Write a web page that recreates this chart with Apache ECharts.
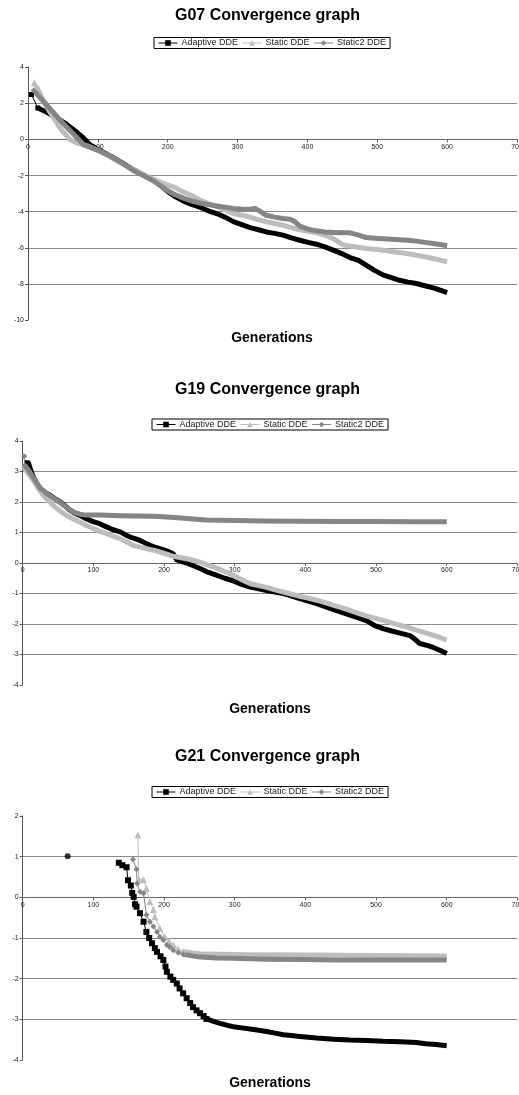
<!DOCTYPE html>
<html>
<head>
<meta charset="utf-8">
<script src="https://cdn.jsdelivr.net/npm/echarts@6/dist/echarts.min.js"></script>
<style>html,body{margin:0;padding:0;background:#fff}#c{width:519px;height:1095px}</style>
</head>
<body>
<div id="c"></div>
<script>
// ---- labels ----
const seriesNames = ['Adaptive DDE', 'Static DDE', 'Static2 DDE'];
const chartTitles = ['G07 Convergence graph', 'G19 Convergence graph', 'G21 Convergence graph'];
const xAxisTitle = 'Generations';
const xTicks = [0, 700, 100];          // min, max, interval
const yTicksG07 = [-10, 4, 2];
const yTicksG19 = [-4, 4, 1];
const yTicksG21 = [-4, 2, 1];

// ---- G07 data [generation, value] ----
const g07AdaptiveHead = [[5, 2.49], [14, 1.75]];
const g07Adaptive = [[14,1.75],[25,1.55],[41,1.2],[55,0.85],[70,0.4],[79,0.1],[89,-0.3],[100,-0.55],[117,-0.9],[135,-1.3],[150,-1.65],[162,-1.9],[175,-2.15],[190,-2.55],[199,-2.85],[210,-3.15],[222,-3.4],[234,-3.6],[246,-3.75],[258,-3.95],[270,-4.1],[282,-4.3],[294,-4.55],[306,-4.72],[318,-4.88],[330,-5.0],[341,-5.12],[353,-5.2],[365,-5.3],[377,-5.45],[389,-5.58],[401,-5.7],[413,-5.8],[425,-5.95],[437,-6.13],[449,-6.32],[461,-6.54],[473,-6.7],[484,-6.96],[496,-7.25],[508,-7.5],[520,-7.65],[532,-7.8],[544,-7.9],[556,-7.98],[568,-8.1],[580,-8.22],[590,-8.35],[600,-8.48]];
const g07StaticHead = [[9, 3.15], [12, 2.95]];
const g07Static = [[12,2.95],[20,2.3],[30,1.6],[40,1.0],[48,0.52],[60,0.0],[70,-0.2],[85,-0.35],[100,-0.6],[117,-0.95],[135,-1.35],[150,-1.65],[165,-1.95],[180,-2.2],[198,-2.5],[210,-2.65],[222,-2.9],[234,-3.1],[246,-3.35],[258,-3.55],[270,-3.7],[282,-3.9],[294,-4.1],[306,-4.2],[318,-4.3],[330,-4.45],[341,-4.56],[353,-4.65],[365,-4.75],[377,-4.88],[389,-5.0],[401,-5.08],[413,-5.17],[425,-5.3],[437,-5.49],[445,-5.7],[452,-5.85],[461,-5.9],[473,-5.97],[484,-6.04],[496,-6.08],[508,-6.13],[520,-6.2],[532,-6.26],[544,-6.33],[556,-6.41],[568,-6.5],[580,-6.59],[590,-6.68],[600,-6.78]];
const g07Static2 = [[8,2.72],[20,2.2],[35,1.55],[50,0.9],[65,0.3],[80,-0.3],[100,-0.6],[117,-0.9],[135,-1.3],[150,-1.7],[165,-2.0],[180,-2.3],[198,-2.8],[210,-3.05],[222,-3.25],[234,-3.4],[246,-3.52],[258,-3.6],[270,-3.68],[282,-3.75],[294,-3.82],[306,-3.85],[318,-3.86],[325,-3.82],[333,-4.0],[341,-4.2],[353,-4.3],[365,-4.38],[375,-4.42],[382,-4.55],[389,-4.8],[401,-4.97],[413,-5.06],[425,-5.12],[437,-5.15],[449,-5.17],[461,-5.17],[473,-5.3],[484,-5.43],[496,-5.47],[508,-5.5],[520,-5.52],[532,-5.55],[544,-5.58],[556,-5.63],[568,-5.7],[580,-5.76],[590,-5.82],[600,-5.89]];

// ---- G19 data ----
const g19Adaptive = [[2,3.29],[8,3.29],[12,3.0],[15,2.82],[20,2.6],[25,2.44],[32,2.3],[39,2.22],[46,2.1],[53,2.0],[60,1.87],[67,1.73],[74,1.63],[81,1.56],[88,1.47],[95,1.4],[102,1.34],[109,1.29],[117,1.2],[124,1.13],[131,1.07],[138,1.02],[145,0.93],[152,0.85],[159,0.8],[166,0.74],[173,0.66],[180,0.58],[187,0.52],[194,0.47],[201,0.42],[208,0.36],[213,0.3],[218,0.1],[232,0.0],[251,-0.18],[262,-0.3],[274,-0.4],[286,-0.5],[298,-0.59],[310,-0.7],[322,-0.79],[334,-0.85],[345,-0.9],[357,-0.95],[369,-1.0],[380,-1.08],[392,-1.17],[404,-1.25],[416,-1.33],[428,-1.43],[440,-1.53],[452,-1.62],[463,-1.71],[475,-1.8],[487,-1.9],[498,-2.05],[510,-2.15],[522,-2.23],[534,-2.3],[548,-2.38],[555,-2.5],[562,-2.64],[572,-2.7],[581,-2.77],[591,-2.87],[600,-2.97]];
const g19Static = [[1,3.17],[4,3.05],[8,2.93],[15,2.71],[22,2.45],[29,2.22],[36,2.05],[43,1.89],[52,1.72],[62,1.56],[71,1.45],[81,1.34],[90,1.23],[100,1.13],[109,1.04],[119,0.96],[128,0.88],[138,0.8],[147,0.69],[156,0.58],[166,0.52],[175,0.47],[185,0.42],[194,0.36],[204,0.29],[213,0.22],[222,0.18],[232,0.14],[241,0.09],[251,0.03],[260,-0.05],[270,-0.13],[284,-0.26],[298,-0.4],[310,-0.55],[322,-0.68],[334,-0.74],[345,-0.8],[357,-0.88],[369,-0.95],[380,-1.02],[392,-1.09],[404,-1.15],[416,-1.22],[428,-1.3],[440,-1.39],[452,-1.47],[463,-1.55],[475,-1.65],[487,-1.74],[498,-1.81],[510,-1.88],[522,-1.96],[534,-2.04],[546,-2.12],[557,-2.2],[569,-2.28],[581,-2.37],[591,-2.45],[600,-2.53]];
const g19Static2Head = [[2, 3.5], [3, 3.2]];
const g19Static2 = [[3,3.2],[8,3.05],[15,2.8],[25,2.45],[39,2.2],[53,1.98],[62,1.82],[72,1.67],[81,1.6],[90,1.57],[109,1.57],[138,1.55],[160,1.54],[185,1.53],[204,1.51],[220,1.48],[240,1.44],[260,1.41],[279,1.4],[300,1.39],[340,1.38],[392,1.37],[450,1.36],[500,1.36],[550,1.35],[600,1.35]];

// ---- G21 data ----
const g21Outlier = [[63.6, 1.01]];
const g21AdaptiveHead = [[136,0.85],[141,0.79],[147,0.74],[149,0.42],[153,0.29],[155,0.11],[157,0.01],[159,-0.17],[161,-0.23],[166,-0.39],[171,-0.6],[175,-0.85],[179,-1.0],[183,-1.13],[187,-1.25],[190,-1.34],[195,-1.45],[199,-1.54],[202,-1.7],[204,-1.83],[209,-1.95],[213,-2.03],[218,-2.12],[222,-2.24],[227,-2.36],[232,-2.48],[237,-2.6],[241,-2.7],[246,-2.78],[251,-2.85],[256,-2.92],[260,-2.99]];
const g21Adaptive = [[260,-2.99],[270,-3.05],[279,-3.1],[290,-3.15],[298,-3.18],[310,-3.21],[322,-3.24],[334,-3.27],[345,-3.3],[357,-3.34],[369,-3.38],[380,-3.4],[392,-3.42],[416,-3.46],[440,-3.49],[463,-3.51],[487,-3.52],[510,-3.54],[534,-3.55],[557,-3.57],[570,-3.6],[585,-3.62],[600,-3.65]];
const g21StaticHead = [[163,1.53],[164,0.45],[171,0.43],[175,0.22],[180,-0.1],[185,-0.3],[187,-0.48],[194,-0.76],[201,-0.97],[207,-1.08],[213,-1.17],[220,-1.27],[227,-1.33]];
const g21Static = [[227,-1.33],[240,-1.37],[251,-1.39],[280,-1.4],[320,-1.41],[400,-1.42],[500,-1.43],[600,-1.44]];
const g21Static2Head = [[156,0.93],[161,0.69],[162,0.34],[166,0.14],[171,0.1],[175,-0.43],[180,-0.6],[185,-0.72],[190,-0.85],[194,-0.97],[199,-1.05],[204,-1.17],[208,-1.22],[213,-1.3],[220,-1.36],[227,-1.4]];
const g21Static2 = [[227,-1.4],[240,-1.44],[251,-1.47],[275,-1.49],[298,-1.5],[345,-1.52],[400,-1.53],[440,-1.54],[500,-1.54],[600,-1.54]];

// ---- styling ----
const FONT = '"Liberation Sans", Arial, Helvetica, sans-serif';
const C_ADAPT = '#000000', C_STAT = '#bdbdbd', C_STAT2 = '#858585';
const grids = [
  {left: 28, top: 67.3, width: 489, height: 252.7, containLabel: false, outerBoundsMode: 'none'},
  {left: 22.7, top: 441, width: 494.7, height: 244, containLabel: false, outerBoundsMode: 'none'},
  {left: 22.7, top: 816, width: 494.7, height: 244, containLabel: false, outerBoundsMode: 'none'}
];
const yTicks = [yTicksG07, yTicksG19, yTicksG21];
// x axis sits on the value 0 of each y scale (Excel style)
function zeroOffset(i) {
  const t = yTicks[i];
  return -grids[i].height * (0 - t[0]) / (t[1] - t[0]);
}

function head(name, data, color, symbol, size, gi) {
  return {type: 'line', name, data, xAxisIndex: gi, yAxisIndex: gi, symbol, symbolSize: size,
    showSymbol: true, animation: false, lineStyle: {color, width: 1},
    itemStyle: {color, borderWidth: 0}, emphasis: {disabled: true}};
}
function band(name, data, color, symbol, gi, w) {
  return {type: 'line', name, data, xAxisIndex: gi, yAxisIndex: gi, symbol, showSymbol: false,
    animation: false, lineStyle: {color, width: w || 5, join: 'round'},
    itemStyle: {color, borderWidth: 0}, emphasis: {disabled: true}};
}

const series = [
  head(seriesNames[0], g07AdaptiveHead, C_ADAPT, 'rect', 5, 0),
  band(seriesNames[0], g07Adaptive, C_ADAPT, 'rect', 0),
  head(seriesNames[1], g07StaticHead, C_STAT, 'triangle', 7, 0),
  band(seriesNames[1], g07Static, C_STAT, 'triangle', 0),
  head(seriesNames[2], [g07Static2[0]], C_STAT2, 'diamond', 6, 0),
  band(seriesNames[2], g07Static2, C_STAT2, 'diamond', 0),

  band(seriesNames[0], g19Adaptive, C_ADAPT, 'rect', 1),
  band(seriesNames[1], g19Static, C_STAT, 'triangle', 1),
  head(seriesNames[2], g19Static2Head, C_STAT2, 'diamond', 6, 1),
  band(seriesNames[2], g19Static2, C_STAT2, 'diamond', 1),

  {type: 'scatter', name: 'outlier', data: g21Outlier, xAxisIndex: 2, yAxisIndex: 2, symbol: 'circle',
   symbolSize: 6, itemStyle: {color: '#000'}, animation: false, emphasis: {disabled: true}},
  head(seriesNames[0], g21AdaptiveHead, C_ADAPT, 'rect', 6, 2),
  band(seriesNames[0], g21Adaptive, C_ADAPT, 'rect', 2),
  head(seriesNames[1], g21StaticHead, C_STAT, 'triangle', 7, 2),
  band(seriesNames[1], g21Static, C_STAT, 'triangle', 2),
  head(seriesNames[2], g21Static2Head, C_STAT2, 'diamond', 6, 2),
  band(seriesNames[2], g21Static2, C_STAT2, 'diamond', 2)
];

const legendTops = [37.5, 419, 786.5];
const legendLefts = [154, 152, 152];
const titleY = [15.7, 390, 756.5];
const genY = [338.5, 709, 1083.5];
const genX = [272, 270, 270];

const option = {
  animation: false,
  textStyle: {fontFamily: FONT},
  grid: grids,
  xAxis: grids.map((g, i) => ({
    type: 'value', gridIndex: i, min: xTicks[0], max: xTicks[1], interval: xTicks[2],
    position: 'bottom', offset: zeroOffset(i),
    axisLine: {show: true, onZero: false, lineStyle: {color: '#666', width: 1}},
    axisTick: {show: true, length: 3, lineStyle: {color: '#666'}},
    axisLabel: {fontSize: 7, color: '#222', margin: 4, fontFamily: FONT, showMaxLabel: true, hideOverlap: false},
    splitLine: {show: false}
  })),
  yAxis: grids.map((g, i) => ({
    type: 'value', gridIndex: i, min: yTicks[i][0], max: yTicks[i][1], interval: yTicks[i][2],
    axisLine: {show: true, onZero: false, lineStyle: {color: '#555', width: 1}},
    axisTick: {show: true, length: 3, lineStyle: {color: '#555'}},
    axisLabel: {fontSize: 7, color: '#222', margin: 4, fontFamily: FONT},
    splitLine: {show: true, showMinLine: false, showMaxLine: false, lineStyle: {color: '#8a8a8a', width: 1}}
  })),
  legend: grids.map((g, i) => ({
    data: seriesNames, left: legendLefts[i], top: legendTops[i], orient: 'horizontal',
    borderColor: '#000', borderWidth: 1, backgroundColor: '#fff', padding: [1, 4],
    itemGap: 4, itemWidth: 19, itemHeight: 7, selectedMode: false,
    lineStyle: {width: 1}, itemStyle: {borderWidth: 0},
    textStyle: {fontSize: 9, color: '#222', fontFamily: FONT, padding: [0, 0, 0, -1]}
  })),
  graphic: [].concat(
    chartTitles.map((t, i) => ({type: 'text', x: 267.5, y: titleY[i],
      style: {text: t, font: 'bold 16px ' + FONT, fill: '#000', textAlign: 'center', align: 'center',
              textVerticalAlign: 'middle', verticalAlign: 'middle'}})),
    genY.map((y, i) => ({type: 'text', x: genX[i], y: y,
      style: {text: xAxisTitle, font: 'bold 14px ' + FONT, fill: '#000', textAlign: 'center', align: 'center',
              textVerticalAlign: 'middle', verticalAlign: 'middle'}}))
  ),
  series
};

const chart = echarts.init(document.getElementById('c'), null, {renderer: 'canvas'});
chart.setOption(option);
</script>
</body>
</html>
